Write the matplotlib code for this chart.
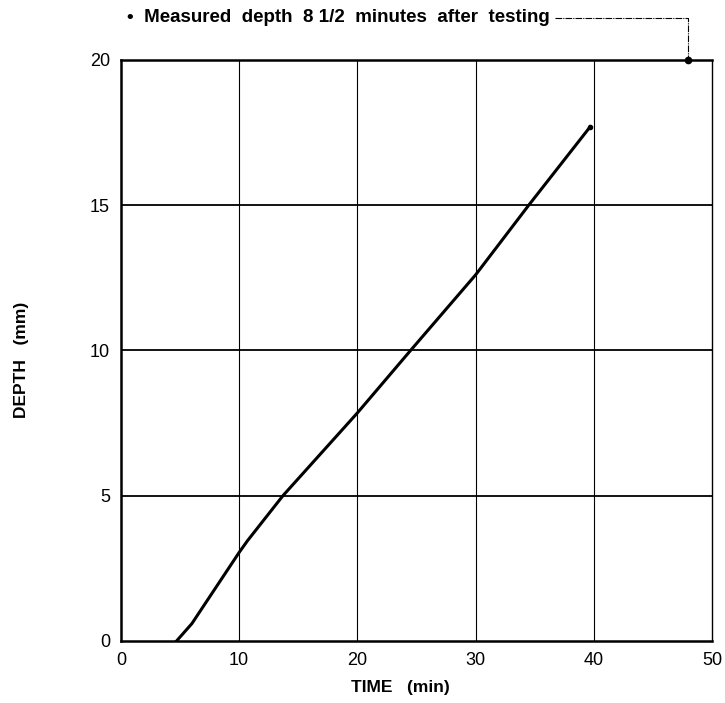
import matplotlib.pyplot as plt

# depth vs time
time_min = [4.7, 6.0, 10.0, 10.7, 13.7, 20.0, 24.5, 30.0, 34.5, 39.7]
depth_mm = [0.0, 0.6, 3.05, 3.45, 5.0, 7.85, 10.0, 12.6, 15.0, 17.7]

# measured depth 8 1/2 minutes after testing
later_time = [48.0]
later_depth = [20.0]

x_ticks = [0, 10, 20, 30, 40, 50]
y_ticks = [0, 5, 10, 15, 20]

plt.rcParams['font.family'] = ['Liberation Sans', 'DejaVu Sans']

fig = plt.figure(figsize=(7.25, 7.03), dpi=100)
ax = fig.add_axes([0.1669, 0.0882, 0.8150, 0.8265])

ax.set_xlim(0, 50)
ax.set_ylim(0, 20)
ax.set_xticks(x_ticks)
ax.set_yticks(y_ticks)
ax.tick_params(length=0, labelsize=13, pad=8)

# grid: thin verticals, heavier horizontals
for xv in x_ticks[1:-1]:
    ax.axvline(xv, color='black', lw=0.8, zorder=1)
for yv in y_ticks[1:-1]:
    ax.axhline(yv, color='black', lw=1.3, zorder=1)

for side in ['left', 'bottom', 'top']:
    ax.spines[side].set_linewidth(1.8)
ax.spines['right'].set_linewidth(1.0)

ax.plot(time_min, depth_mm, color='black', lw=2.2, zorder=3)
ax.plot(time_min[-1:], depth_mm[-1:], 'o', color='black', ms=3, zorder=3)
ax.plot(later_time, later_depth, 'o', color='black', ms=4.5, clip_on=False, zorder=4)

# leader line from the note to the point
ax.plot([36.7, 48.0, 48.0], [21.45, 21.45, 20.0], color='black', lw=0.8,
        ls=(0, (6, 1, 1, 1)), clip_on=False)
ax.text(0.5, 21.45, '\u2022  Measured  depth  8 1/2  minutes  after  testing',
        fontsize=13.5, fontweight='bold', va='center', ha='left')

ax.set_xlabel('TIME   (min)', fontsize=12.5, fontweight='bold')
ax.set_ylabel('DEPTH   (mm)', fontsize=12.5, fontweight='bold')
ax.xaxis.set_label_coords(0.473, -0.067)
ax.yaxis.set_label_coords(-0.156, 0.484)

fig.savefig('out.png', dpi=100)
